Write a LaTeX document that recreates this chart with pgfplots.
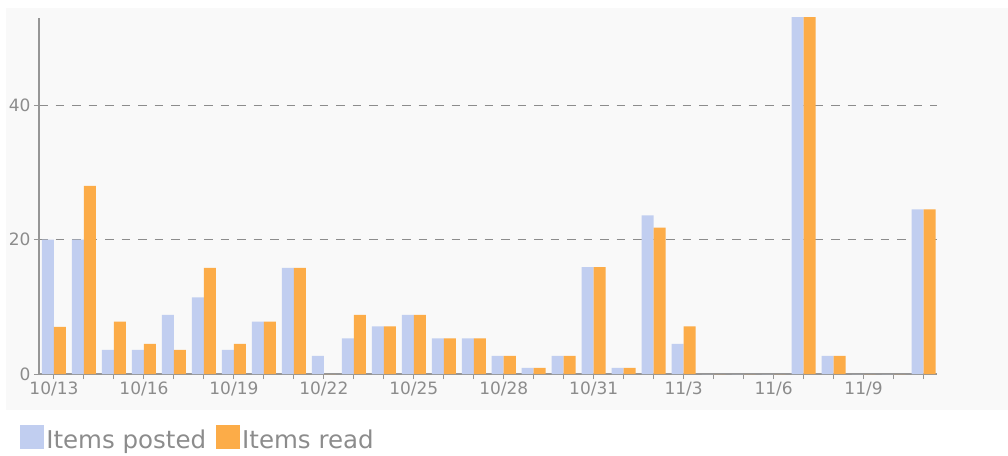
\documentclass[border=0pt]{standalone}
\usepackage{pgfplots}
\pgfplotsset{compat=1.18}
\usepackage{pgfplotstable}
\usepackage{fontspec}
\setmainfont{DejaVu Sans}
\definecolor{postblue}{RGB}{193,206,240}
\definecolor{readorange}{RGB}{252,172,72}
\definecolor{bggray}{RGB}{249,249,249}
\definecolor{axgray}{RGB}{150,150,150}
\definecolor{gridgray}{RGB}{140,140,140}
\definecolor{txtgray}{RGB}{140,140,140}
\pgfplotstableread{
x posted read
0 20 7
1 20 28
2 3.6 7.8
3 3.6 4.5
4 8.8 3.6
5 11.4 15.8
6 3.6 4.5
7 7.8 7.8
8 15.8 15.8
9 2.7 0
10 5.3 8.8
11 7.1 7.1
12 8.8 8.8
13 5.3 5.3
14 5.3 5.3
15 2.7 2.7
16 0.9 0.9
17 2.7 2.7
18 15.9 15.9
19 0.9 0.9
20 23.6 21.8
21 4.5 7.1
22 0 0
23 0 0
24 0 0
25 55 55
26 2.7 2.7
27 0 0
28 0 0
29 24.5 24.5
}\datatable
\begin{document}
\begin{tikzpicture}[x=1pt,y=1pt]
\path[use as bounding box] (0,0) rectangle (1008,455);
\fill[bggray] (6,45) rectangle (1008,447);
\begin{axis}[
  at={(39pt,81pt)}, anchor=south west,
  scale only axis, width=898pt, height=356pt,
  ybar=0pt, bar width=12pt,
  xmin=-0.5, xmax=29.45, ymin=0, ymax=53,
  enlargelimits=false,
  axis lines=left,
  axis line style={-, axgray, line width=1.2pt},
  xtick={0,...,29},
  xticklabels={10/13,,,10/16,,,10/19,,,10/22,,,10/25,,,10/28,,,10/31,,,11/3,,,11/6,,,11/9,,},
  ytick={0,20,40},
  tick align=outside,
  major tick length=5pt,
  tick style={axgray, line width=1pt},
  ymajorgrids,
  grid style={gridgray, dash pattern=on 8.5pt off 8pt, line width=1.1pt},
  ticklabel style={font=\fontsize{17}{17}\selectfont, text=txtgray},
  /pgf/number format/assume math mode=true,
  xticklabel style={yshift=1pt},
  legend style={at={(-0.021,-0.18)}, anchor=west, draw=none, fill=none,
    legend columns=2, inner sep=0pt,
    font=\fontsize{24.5}{24.5}\selectfont, text=txtgray,
    /tikz/every even column/.append style={column sep=8pt}},
  legend image code/.code={\fill[#1] (0pt,-9pt) rectangle (24pt,15pt);},
  legend cell align=left,
]
\addplot[draw=none, fill=postblue] table[x=x, y=posted] {\datatable};
\addplot[draw=none, fill=readorange] table[x=x, y=read] {\datatable};
\legend{Items posted, Items read}
\end{axis}
\end{tikzpicture}
\end{document}
